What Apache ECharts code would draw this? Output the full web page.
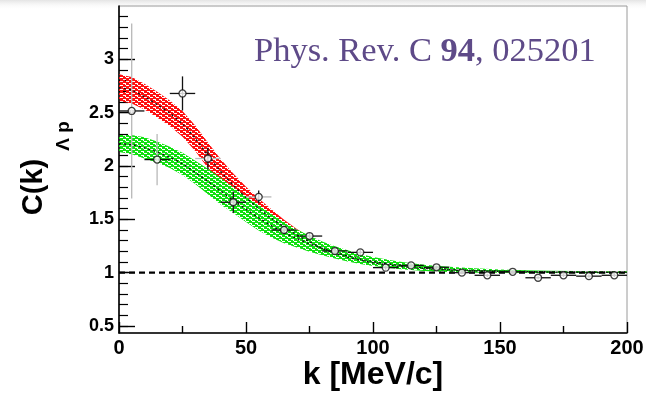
<!DOCTYPE html>
<html>
<head>
<meta charset="utf-8">
<script src="https://cdn.jsdelivr.net/npm/echarts@6/dist/echarts.min.js"></script>
<style>
  html, body { margin: 0; padding: 0; background: #fff; }
  #chart { width: 646px; height: 399px; }
</style>
</head>
<body>
<div id="chart"></div>
<script>
// Model bands: k grid, central value and half-width of each band
const kBand = [0, 5, 10, 15, 20, 25, 30, 35, 40, 45, 50, 55, 60, 65, 70, 75, 80, 85, 90, 95, 100, 110, 120, 130, 140, 150, 160, 170, 180, 190, 200];
const redMid = [2.735, 2.71, 2.65, 2.575, 2.495, 2.395, 2.26, 2.10, 1.95, 1.82, 1.705, 1.60, 1.51, 1.43, 1.355, 1.29, 1.228, 1.182, 1.146, 1.117, 1.093, 1.06, 1.04, 1.025, 1.017, 1.012, 1.008, 1.005, 1.004, 1.003, 1.002];
const redHalf = [0.125, 0.125, 0.12, 0.12, 0.12, 0.12, 0.12, 0.12, 0.115, 0.11, 0.1, 0.095, 0.085, 0.065, 0.055, 0.045, 0.038, 0.033, 0.03, 0.026, 0.023, 0.018, 0.014, 0.012, 0.01, 0.008, 0.007, 0.006, 0.006, 0.006, 0.006];
const greenMid = [2.21, 2.20, 2.17, 2.13, 2.08, 2.02, 1.94, 1.855, 1.765, 1.68, 1.595, 1.515, 1.44, 1.375, 1.32, 1.27, 1.228, 1.19, 1.157, 1.128, 1.104, 1.07, 1.045, 1.03, 1.02, 1.014, 1.01, 1.007, 1.005, 1.004, 1.003];
const greenHalf = [0.08, 0.09, 0.1, 0.1, 0.1, 0.105, 0.11, 0.12, 0.125, 0.12, 0.12, 0.12, 0.11, 0.1, 0.085, 0.075, 0.065, 0.058, 0.052, 0.047, 0.042, 0.035, 0.03, 0.025, 0.02, 0.016, 0.013, 0.011, 0.01, 0.01, 0.01];

// Measured correlation function: k, C(k), and their errors
const kData = [5, 15, 25, 35, 45, 55, 65, 75, 85, 95, 105, 115, 125, 135, 145, 155, 165, 175, 185, 195];
const cData = [2.516, 2.06, 2.68, 2.07, 1.66, 1.71, 1.40, 1.343, 1.203, 1.19, 1.047, 1.068, 1.05, 1.0, 0.975, 1.008, 0.952, 0.975, 0.967, 0.975];
const kErr = [5, 5, 5, 5, 5, 5, 5, 5, 5, 5, 5, 5, 5, 5, 5, 5, 5, 5, 5, 5];
const cErr = [0.82, 0.24, 0.16, 0.10, 0.10, 0.06, 0.04, 0.03, 0.03, 0.025, 0.02, 0.02, 0.015, 0.015, 0.015, 0.015, 0.015, 0.015, 0.015, 0.015];

// Axis ticks
const yMajor = [0.5, 1, 1.5, 2, 2.5, 3];
const yMinor = [0.5, 0.6, 0.7, 0.8, 0.9, 1.0, 1.1, 1.2, 1.3, 1.4, 1.5, 1.6, 1.7, 1.8, 1.9, 2.0, 2.1, 2.2, 2.3, 2.4, 2.5, 2.6, 2.7, 2.8, 2.9, 3.0, 3.1, 3.2, 3.3, 3.4];
const xMajor = [0, 50, 100, 150, 200];

const FONT = '"Liberation Sans", Arial, Helvetica, sans-serif';
const SERIF = '"Liberation Serif", "Times New Roman", serif';

// Error bars drawn lighter on these points
const faintVertical = new Set([5, 15]);
const faintHorizontal = new Set([35, 55]);

// Hatched fill: solid colour with small see-through gaps
function hatch(base) {
  const c = document.createElement('canvas');
  c.width = 6; c.height = 4;
  const g = c.getContext('2d');
  g.fillStyle = base;
  g.fillRect(0, 0, 6, 4);
  g.clearRect(0, 1, 3, 1);
  g.clearRect(3, 3, 3, 1);
  g.clearRect(5, 0, 1, 1);
  return c;
}

function bandRows(mid, half) {
  return kBand.map((k, i) => [k, mid[i] - half[i], mid[i] + half[i]]);
}

function bandSeries(rows, base) {
  const pattern = { image: hatch(base), repeat: 'repeat' };
  return {
    type: 'custom',
    data: rows,
    encode: { x: 0, y: [1, 2] },
    silent: true,
    z: 1,
    renderItem: function (params, api) {
      if (params.dataIndex !== 0) return null;
      const pts = [];
      for (let i = 0; i < rows.length; i++) pts.push(api.coord([rows[i][0], rows[i][2]]));
      for (let i = rows.length - 1; i >= 0; i--) pts.push(api.coord([rows[i][0], rows[i][1]]));
      return { type: 'polygon', shape: { points: pts }, style: { fill: pattern } };
    }
  };
}

function centerLine(mid) {
  return {
    type: 'line',
    data: kBand.map((k, i) => [k, mid[i]]),
    showSymbol: false,
    smooth: 0.3,
    silent: true,
    z: 2,
    lineStyle: { color: '#111', width: 1.4, type: [2, 3] }
  };
}

const chart = echarts.init(document.getElementById('chart'), null, { renderer: 'canvas' });

chart.setOption({
  animation: false,
  backgroundColor: '#fff',
  grid: {
    left: 119, right: 19, top: 6, bottom: 66,
    show: true, borderColor: '#9a9a9a', borderWidth: 1,
    outerBoundsMode: 'none'
  },
  xAxis: {
    type: 'value', min: 0, max: 200, interval: 50,
    axisLine: { show: true, lineStyle: { color: '#000', width: 1.6 } },
    axisTick: { show: true, inside: true, length: 11, lineStyle: { color: '#000', width: 1.4 } },
    minorTick: { show: true, splitNumber: 2, length: 7, lineStyle: { color: '#000', width: 1.4 } },
    axisLabel: { customValues: xMajor, fontFamily: FONT, fontWeight: 'bold', fontSize: 20, color: '#000', margin: 5 },
    splitLine: { show: false }
  },
  yAxis: [
    {
      type: 'value', min: 0.434, max: 3.5, position: 'left',
      axisLine: { show: true, lineStyle: { color: '#000', width: 1.6 } },
      axisTick: { show: true, inside: true, length: 16, customValues: yMajor, lineStyle: { color: '#000', width: 1.4 } },
      axisLabel: { customValues: yMajor, fontFamily: FONT, fontWeight: 'bold', fontSize: 18, color: '#000', margin: 5 },
      splitLine: { show: false }
    },
    {
      type: 'value', min: 0.434, max: 3.5, position: 'left',
      axisLine: { show: false },
      axisTick: { show: true, inside: true, length: 9, customValues: yMinor, lineStyle: { color: '#000', width: 1.2 } },
      axisLabel: { show: false },
      splitLine: { show: false }
    }
  ],
  graphic: [
    {
      type: 'rect', left: 0, top: 0, z: -1, silent: true,
      shape: { width: 646, height: 10 },
      style: { fill: new echarts.graphic.LinearGradient(0, 0, 0, 1, [
        { offset: 0, color: '#e4e4e4' }, { offset: 1, color: 'rgba(255,255,255,0)' }]) }
    },
    {
      type: 'text', x: 254, y: 52, z: 10,
      style: {
        text: 'Phys. Rev. C {b|94}, 025201',
        fontFamily: SERIF, fontSize: 34.5, fill: '#5e4a88',
        verticalAlign: 'middle', align: 'left',
        rich: { b: { fontWeight: 'bold', fontSize: 34.5, fontFamily: SERIF, fill: '#5e4a88' } }
      }
    },
    {
      type: 'text', x: 373, y: 375, z: 10,
      style: { text: 'k [MeV/c]', fontFamily: FONT, fontWeight: 'bold', fontSize: 32, fill: '#000', align: 'center', verticalAlign: 'middle' }
    },
    {
      type: 'text', x: 34, y: 187, rotation: Math.PI / 2, z: 10,
      style: { text: 'C(k)', fontFamily: FONT, fontWeight: 'bold', fontSize: 29, fill: '#000', align: 'center', verticalAlign: 'middle' }
    },
    {
      type: 'text', x: 64, y: 136, rotation: Math.PI / 2, z: 10,
      style: { text: 'Λ p', fontFamily: FONT, fontWeight: 'bold', fontSize: 19, fill: '#000', align: 'center', verticalAlign: 'middle' }
    }
  ],
  series: [
    bandSeries(bandRows(redMid, redHalf), '#ff1010'),
    bandSeries(bandRows(greenMid, greenHalf), '#10e010'),
    centerLine(redMid),
    centerLine(greenMid),
    {
      type: 'line',
      data: [[0, 1], [200, 1]],
      showSymbol: false, silent: true, z: 2,
      lineStyle: { color: '#000', width: 2.4, type: [6, 4] }
    },
    {
      type: 'custom',
      data: kData.map((k, i) => [k, cData[i], kErr[i], cErr[i]]),
      encode: { x: 0, y: 1 },
      silent: true,
      z: 3,
      renderItem: function (params, api) {
        const k = api.value(0), c = api.value(1), dk = api.value(2), dc = api.value(3);
        const l = api.coord([k - dk, c]), r = api.coord([k + dk, c]);
        const t = api.coord([k, c + dc]), b = api.coord([k, c - dc]);
        return {
          type: 'group',
          children: [
            { type: 'line', shape: { x1: l[0], y1: l[1], x2: r[0], y2: r[1] },
              style: { stroke: faintHorizontal.has(k) ? '#b8b8b8' : '#111', lineWidth: 1.3 } },
            { type: 'line', shape: { x1: t[0], y1: t[1], x2: b[0], y2: b[1] },
              style: { stroke: faintVertical.has(k) ? '#b8b8b8' : '#111', lineWidth: 1.3 } }
          ]
        };
      }
    },
    {
      type: 'scatter',
      data: kData.map((k, i) => [k, cData[i]]),
      symbol: 'circle',
      symbolSize: 7,
      silent: true,
      z: 4,
      itemStyle: { color: '#fff', borderColor: '#111', borderWidth: 1.3 }
    }
  ]
});
</script>
</body>
</html>
